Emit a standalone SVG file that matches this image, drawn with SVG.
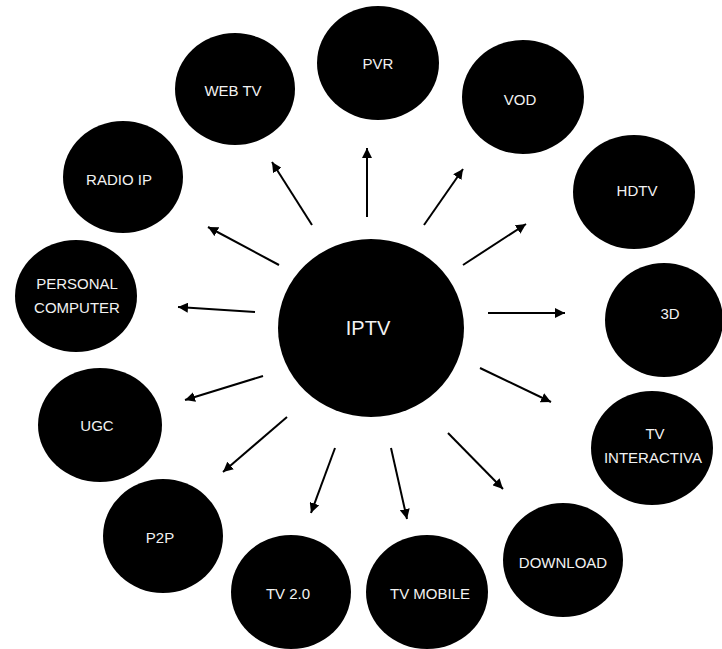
<svg xmlns="http://www.w3.org/2000/svg" width="722" height="649" viewBox="0 0 722 649">
<defs>
<style>
.node ellipse{fill:#000;}
.node text{fill:#f2f2f2;font-family:"Liberation Sans",Arial,sans-serif;font-size:15px;text-anchor:middle;dominant-baseline:central;}
.big text{font-size:20px;}
.conn line{stroke:#000;stroke-width:2;marker-end:url(#ah);}
</style>
<marker id="ah" markerUnits="userSpaceOnUse" markerWidth="11" markerHeight="10" refX="10" refY="5" orient="auto" viewBox="0 0 11 10">
<path d="M0,0 L10,5 L0,10 Z" fill="#000"/>
</marker>
</defs>
<rect width="722" height="649" fill="#fff"/>
<g id="connectors" class="conn">
<line x1="312" y1="225" x2="272" y2="162"/>
<line x1="279" y1="265" x2="208" y2="227"/>
<line x1="255" y1="312" x2="178" y2="307"/>
<line x1="367" y1="217" x2="367" y2="148"/>
<line x1="424" y1="225" x2="463" y2="169"/>
<line x1="463" y1="265" x2="526" y2="224"/>
<line x1="488" y1="313" x2="565" y2="313"/>
<line x1="480" y1="368" x2="551" y2="402"/>
<line x1="448" y1="433" x2="503" y2="489"/>
<line x1="391" y1="448" x2="407" y2="519"/>
<line x1="335" y1="448" x2="311" y2="513"/>
<line x1="287" y1="417" x2="223" y2="472"/>
<line x1="263" y1="376" x2="185" y2="400"/>
</g>
<g id="iptv" class="node big"><ellipse cx="371" cy="328" rx="93" ry="89"/><text x="368" y="328">IPTV</text></g>
<g id="pvr" class="node"><ellipse cx="378" cy="63" rx="61" ry="57"/><text x="378" y="63">PVR</text></g>
<g id="vod" class="node"><ellipse cx="523" cy="97" rx="61" ry="57"/><text x="520" y="99">VOD</text></g>
<g id="hdtv" class="node"><ellipse cx="634" cy="192" rx="61" ry="57"/><text x="637" y="190">HDTV</text></g>
<g id="3d" class="node"><ellipse cx="664" cy="320" rx="59" ry="57"/><text x="670" y="313">3D</text></g>
<g id="tv-interactiva" class="node"><ellipse cx="652" cy="448" rx="61" ry="57"/><text x="655" y="433">TV</text><text x="653" y="457">INTERACTIVA</text></g>
<g id="download" class="node"><ellipse cx="563" cy="560" rx="60" ry="57"/><text x="563" y="562">DOWNLOAD</text></g>
<g id="tv-mobile" class="node"><ellipse cx="427" cy="592" rx="61" ry="57"/><text x="430" y="593">TV MOBILE</text></g>
<g id="tv-20" class="node"><ellipse cx="291" cy="592" rx="60" ry="57"/><text x="288" y="593">TV 2.0</text></g>
<g id="p2p" class="node"><ellipse cx="163" cy="536" rx="60" ry="57"/><text x="160" y="537">P2P</text></g>
<g id="ugc" class="node"><ellipse cx="100" cy="425" rx="62" ry="57"/><text x="97" y="425">UGC</text></g>
<g id="personal-computer" class="node"><ellipse cx="76" cy="296" rx="61" ry="56"/><text x="77" y="283">PERSONAL</text><text x="77" y="307">COMPUTER</text></g>
<g id="radio-ip" class="node"><ellipse cx="123" cy="177" rx="60" ry="56"/><text x="119" y="179">RADIO IP</text></g>
<g id="web-tv" class="node"><ellipse cx="235" cy="89" rx="60" ry="56"/><text x="233" y="90">WEB TV</text></g>
</svg>
